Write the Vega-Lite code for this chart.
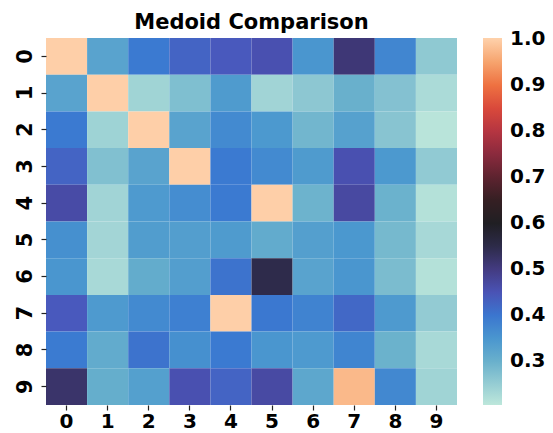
{
  "$schema": "https://vega.github.io/schema/vega-lite/v6.json",
  "autosize": "none",
  "width": 411,
  "height": 367,
  "padding": {"left": 46, "top": 38, "right": 96, "bottom": 28},
  "background": "white",
  "config": {
    "font": "DejaVu Sans",
    "view": {"stroke": null},
    "axis": {"labelFont": "DejaVu Sans", "labelFontWeight": "bold", "labelFontSize": 21, "labelColor": "black", "tickColor": "#222222", "tickSize": 5, "tickWidth": 1.2, "domain": false, "grid": false, "title": null}
  },
  "title": {"text": "Medoid Comparison", "fontSize": 21, "fontWeight": "bold", "font": "DejaVu Sans", "color": "black", "offset": 5, "anchor": "middle"},
  "data": {"values": [
    {"row": 0, "col": 0, "v": 1.0}, {"row": 0, "col": 1, "v": 0.325}, {"row": 0, "col": 2, "v": 0.395}, {"row": 0, "col": 3, "v": 0.425}, {"row": 0, "col": 4, "v": 0.44}, {"row": 0, "col": 5, "v": 0.455}, {"row": 0, "col": 6, "v": 0.35}, {"row": 0, "col": 7, "v": 0.51}, {"row": 0, "col": 8, "v": 0.375}, {"row": 0, "col": 9, "v": 0.257},
    {"row": 1, "col": 0, "v": 0.325}, {"row": 1, "col": 1, "v": 1.0}, {"row": 1, "col": 2, "v": 0.238}, {"row": 1, "col": 3, "v": 0.275}, {"row": 1, "col": 4, "v": 0.34}, {"row": 1, "col": 5, "v": 0.237}, {"row": 1, "col": 6, "v": 0.26}, {"row": 1, "col": 7, "v": 0.3}, {"row": 1, "col": 8, "v": 0.27}, {"row": 1, "col": 9, "v": 0.225},
    {"row": 2, "col": 0, "v": 0.395}, {"row": 2, "col": 1, "v": 0.24}, {"row": 2, "col": 2, "v": 1.0}, {"row": 2, "col": 3, "v": 0.325}, {"row": 2, "col": 4, "v": 0.37}, {"row": 2, "col": 5, "v": 0.345}, {"row": 2, "col": 6, "v": 0.29}, {"row": 2, "col": 7, "v": 0.33}, {"row": 2, "col": 8, "v": 0.265}, {"row": 2, "col": 9, "v": 0.21},
    {"row": 3, "col": 0, "v": 0.425}, {"row": 3, "col": 1, "v": 0.273}, {"row": 3, "col": 2, "v": 0.325}, {"row": 3, "col": 3, "v": 1.0}, {"row": 3, "col": 4, "v": 0.395}, {"row": 3, "col": 5, "v": 0.37}, {"row": 3, "col": 6, "v": 0.34}, {"row": 3, "col": 7, "v": 0.455}, {"row": 3, "col": 8, "v": 0.345}, {"row": 3, "col": 9, "v": 0.255},
    {"row": 4, "col": 0, "v": 0.465}, {"row": 4, "col": 1, "v": 0.237}, {"row": 4, "col": 2, "v": 0.343}, {"row": 4, "col": 3, "v": 0.365}, {"row": 4, "col": 4, "v": 0.395}, {"row": 4, "col": 5, "v": 1.0}, {"row": 4, "col": 6, "v": 0.295}, {"row": 4, "col": 7, "v": 0.47}, {"row": 4, "col": 8, "v": 0.297}, {"row": 4, "col": 9, "v": 0.215},
    {"row": 5, "col": 0, "v": 0.36}, {"row": 5, "col": 1, "v": 0.235}, {"row": 5, "col": 2, "v": 0.337}, {"row": 5, "col": 3, "v": 0.335}, {"row": 5, "col": 4, "v": 0.34}, {"row": 5, "col": 5, "v": 0.31}, {"row": 5, "col": 6, "v": 0.333}, {"row": 5, "col": 7, "v": 0.347}, {"row": 5, "col": 8, "v": 0.285}, {"row": 5, "col": 9, "v": 0.23},
    {"row": 6, "col": 0, "v": 0.35}, {"row": 6, "col": 1, "v": 0.229}, {"row": 6, "col": 2, "v": 0.308}, {"row": 6, "col": 3, "v": 0.335}, {"row": 6, "col": 4, "v": 0.405}, {"row": 6, "col": 5, "v": 0.547}, {"row": 6, "col": 6, "v": 0.325}, {"row": 6, "col": 7, "v": 0.35}, {"row": 6, "col": 8, "v": 0.28}, {"row": 6, "col": 9, "v": 0.215},
    {"row": 7, "col": 0, "v": 0.44}, {"row": 7, "col": 1, "v": 0.343}, {"row": 7, "col": 2, "v": 0.37}, {"row": 7, "col": 3, "v": 0.385}, {"row": 7, "col": 4, "v": 1.0}, {"row": 7, "col": 5, "v": 0.398}, {"row": 7, "col": 6, "v": 0.38}, {"row": 7, "col": 7, "v": 0.42}, {"row": 7, "col": 8, "v": 0.342}, {"row": 7, "col": 9, "v": 0.253},
    {"row": 8, "col": 0, "v": 0.393}, {"row": 8, "col": 1, "v": 0.31}, {"row": 8, "col": 2, "v": 0.405}, {"row": 8, "col": 3, "v": 0.36}, {"row": 8, "col": 4, "v": 0.395}, {"row": 8, "col": 5, "v": 0.35}, {"row": 8, "col": 6, "v": 0.343}, {"row": 8, "col": 7, "v": 0.378}, {"row": 8, "col": 8, "v": 0.298}, {"row": 8, "col": 9, "v": 0.229},
    {"row": 9, "col": 0, "v": 0.52}, {"row": 9, "col": 1, "v": 0.305}, {"row": 9, "col": 2, "v": 0.332}, {"row": 9, "col": 3, "v": 0.455}, {"row": 9, "col": 4, "v": 0.425}, {"row": 9, "col": 5, "v": 0.468}, {"row": 9, "col": 6, "v": 0.318}, {"row": 9, "col": 7, "v": 0.975}, {"row": 9, "col": 8, "v": 0.372}, {"row": 9, "col": 9, "v": 0.238}
  ]},
  "mark": {"type": "rect"},
  "encoding": {
    "x": {"field": "col", "type": "ordinal", "scale": {"paddingInner": 0, "paddingOuter": 0}, "axis": {"orient": "bottom", "labelAngle": 0, "labelPadding": 1, "labelFontSize": 20}},
    "y": {"field": "row", "type": "ordinal", "scale": {"paddingInner": 0, "paddingOuter": 0}, "axis": {"orient": "left", "labelAngle": 270, "labelAlign": "center", "labelBaseline": "bottom", "labelPadding": 6}},
    "color": {
      "field": "v", "type": "quantitative",
      "scale": {
        "type": "linear",
        "domain": [0.205, 0.2529, 0.3008, 0.3486, 0.3965, 0.4444, 0.4923, 0.5481, 0.604, 0.6599, 0.7157, 0.7795, 0.8434, 0.8993, 0.9471, 1.003],
        "range": ["#bde7db", "#93cbd3", "#68b0cc", "#4a97cf", "#3a79d1", "#4a56bb", "#463d8a", "#2e2b4a", "#1f1e20", "#3a1f24", "#6b2533", "#a52e45", "#d6443a", "#ee7040", "#f6a06a", "#fed2ab"],
        "interpolate": "rgb"
      },
      "legend": {
        "title": null, "orient": "right", "offset": 26, "direction": "vertical",
        "gradientLength": 367, "gradientThickness": 19, "gradientStrokeWidth": 0,
        "values": [0.3, 0.4, 0.5, 0.6, 0.7, 0.8, 0.9, 1.0], "format": ".1f",
        "labelFont": "DejaVu Sans", "labelFontWeight": "bold", "labelFontSize": 20, "labelColor": "black",
        "labelOffset": 8, "labelOverlap": false, "labelLimit": 100
      }
    }
  }
}
